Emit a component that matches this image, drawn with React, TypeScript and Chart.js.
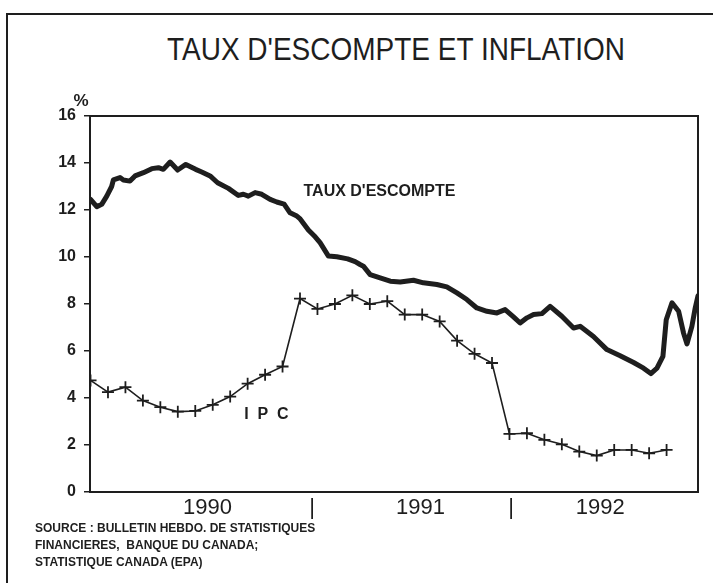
import React, { useEffect, useRef } from "react";
import { Chart, registerables } from "chart.js";

Chart.register(...registerables);

// ---- Data (x in months, 0 = January 1990) ----
const ipcMonths = [0, 1, 2, 3, 4, 5, 6, 7, 8, 9, 10, 11, 12, 13, 14, 15, 16, 17, 18, 19, 20, 21, 22, 23, 24, 25, 26, 27, 28, 29, 30, 31, 32, 33];
const ipcValues = [4.75, 4.25, 4.46, 3.89, 3.61, 3.42, 3.45, 3.71, 4.06, 4.61, 4.99, 5.34, 8.23, 7.79, 8.0, 8.37, 8.0, 8.12, 7.55, 7.55, 7.26, 6.44, 5.88, 5.49, 2.47, 2.5, 2.22, 2.03, 1.72, 1.55, 1.79, 1.79, 1.65, 1.79];

const tauxMonths = [0, 0.36, 0.64, 0.93, 1.21, 1.31, 1.69, 1.88, 2.26, 2.55, 3.03, 3.51, 3.89, 4.17, 4.56, 4.99, 5.46, 6.02, 6.37, 6.85, 7.28, 7.9, 8.47, 8.76, 9.04, 9.43, 9.81, 10.29, 10.67, 11.09, 11.43, 11.82, 12.01, 12.48, 12.87, 13.15, 13.63, 14.11, 14.73, 15.16, 15.44, 15.63, 16.02, 16.59, 17.17, 17.74, 18.5, 19.07, 19.84, 20.41, 20.99, 21.56, 22.13, 22.71, 23.28, 23.75, 24.23, 24.61, 25.0, 25.38, 25.86, 26.33, 27.0, 27.67, 28.05, 28.81, 29.58, 30.34, 31.11, 31.68, 32.1, 32.45, 32.79, 32.98, 33.31, 33.69, 33.97, 34.17, 34.45, 34.64, 34.8];
const tauxValues = [12.45, 12.14, 12.24, 12.59, 13.0, 13.28, 13.38, 13.28, 13.23, 13.45, 13.59, 13.76, 13.8, 13.73, 14.04, 13.7, 13.94, 13.73, 13.62, 13.45, 13.16, 12.92, 12.62, 12.67, 12.59, 12.74, 12.67, 12.45, 12.34, 12.25, 11.88, 11.74, 11.62, 11.15, 10.86, 10.61, 10.04, 10.01, 9.92, 9.8, 9.68, 9.61, 9.25, 9.11, 8.97, 8.94, 9.01, 8.9, 8.83, 8.73, 8.47, 8.19, 7.83, 7.69, 7.62, 7.76, 7.45, 7.19, 7.41, 7.55, 7.59, 7.9, 7.48, 6.98, 7.05, 6.62, 6.06, 5.8, 5.51, 5.27, 5.04, 5.27, 5.77, 7.33, 8.05, 7.69, 6.77, 6.3, 7.05, 7.83, 8.35];

const xTickMonths = [6.7, 12.7, 18.9, 24.1, 29.2];
const xTickLabels = ["1990", "|", "1991", "|", "1992"];
const xMin = -0.03;
const xMax = 34.8;
const yMin = 0;
const yMax = 16;
const yStep = 2;

const title = "TAUX D'ESCOMPTE ET INFLATION";
const tauxLabel = "TAUX D'ESCOMPTE";
const tauxLabelAt = [12.2, 12.8];
const ipcLabel = "I  P  C";
const ipcLabelAt = [8.8, 3.28];
const unitLabel = "%";
const sourceLines = [
  "SOURCE : BULLETIN HEBDO. DE STATISTIQUES",
  "FINANCIERES,  BANQUE DU CANADA;",
  "STATISTIQUE CANADA (EPA)",
];

const FONT = "'Liberation Sans', Arial, Helvetica, sans-serif";
const INK = "#1e1e1e";

const annotate = {
  id: "annotate",
  afterDatasetsDraw(chart: any) {
    const { ctx, chartArea: a, scales } = chart;
    const x = scales.x;
    const y = scales.y;
    ctx.save();
    ctx.strokeStyle = INK;
    ctx.lineWidth = 2;
    ctx.beginPath();
    ctx.moveTo(a.left, a.top);
    ctx.lineTo(a.right, a.top);
    ctx.lineTo(a.right, a.bottom);
    ctx.stroke();

    ctx.fillStyle = INK;
    ctx.font = `bold 16px ${FONT}`;
    ctx.textBaseline = "middle";
    ctx.textAlign = "left";
    ctx.fillText(tauxLabel, x.getPixelForValue(tauxLabelAt[0]), y.getPixelForValue(tauxLabelAt[1]));
    ctx.fillText(ipcLabel, x.getPixelForValue(ipcLabelAt[0]), y.getPixelForValue(ipcLabelAt[1]));

    ctx.font = `bold 17px ${FONT}`;
    ctx.textAlign = "center";
    ctx.fillText(unitLabel, a.left - 9, a.top - 15);
    ctx.restore();
  },
};

function ChartCanvas() {
  const ref = useRef<HTMLCanvasElement | null>(null);
  useEffect(() => {
    if (!ref.current) return;
    const chart = new Chart(ref.current, {
      type: "line",
      data: {
        datasets: [
          {
            label: tauxLabel,
            data: tauxMonths.map((m, i) => ({ x: m, y: tauxValues[i] })),
            borderColor: INK,
            borderWidth: 5,
            pointRadius: 0,
            tension: 0,
            borderJoinStyle: "round",
            borderCapStyle: "round",
            clip: 0,
          },
          {
            label: "IPC",
            data: ipcMonths.map((m, i) => ({ x: m, y: ipcValues[i] })),
            borderColor: INK,
            borderWidth: 1.6,
            pointStyle: "cross",
            pointRadius: 6,
            pointBorderWidth: 1.8,
            pointBorderColor: INK,
            pointBackgroundColor: INK,
            tension: 0,
          },
        ],
      },
      options: {
        animation: false,
        responsive: false,
        maintainAspectRatio: false,
        events: [],
        layout: { padding: { left: 30, top: 116, right: 15, bottom: 51 } },
        plugins: {
          legend: { display: false },
          tooltip: { enabled: false },
          title: { display: false },
        },
        scales: {
          x: {
            type: "linear",
            min: xMin,
            max: xMax,
            afterFit: (s: any) => {
              s.height = 40;
            },
            afterBuildTicks: (s: any) => {
              s.ticks = xTickMonths.map((v) => ({ value: v }));
            },
            ticks: {
              autoSkip: false,
              maxRotation: 0,
              minRotation: 0,
              padding: 3,
              color: INK,
              font: { family: FONT, size: 22 },
              callback: (_v: any, i: number) => xTickLabels[i],
            },
            grid: { display: false, drawTicks: false },
            border: { display: true, color: INK, width: 2 },
          },
          y: {
            min: yMin,
            max: yMax,
            afterFit: (s: any) => {
              s.width = 60;
            },
            ticks: {
              stepSize: yStep,
              padding: 8,
              color: INK,
              font: { family: FONT, size: 16, weight: "bold" },
            },
            grid: {
              drawOnChartArea: false,
              drawTicks: true,
              tickLength: 6,
              color: INK,
              lineWidth: 1.5,
            },
            border: { display: true, color: INK, width: 2 },
          },
        },
      },
      plugins: [annotate],
    } as any);
    return () => chart.destroy();
  }, []);
  return (
    <canvas
      ref={ref}
      width={713}
      height={583}
      style={{ position: "absolute", left: 0, top: 0, width: 713, height: 583 }}
    />
  );
}

export default function App() {
  return (
    <div
      style={{
        position: "fixed",
        left: 0,
        top: 0,
        width: 713,
        height: 583,
        overflow: "hidden",
        background: "#fff",
        fontFamily: FONT,
        color: INK,
      }}
    >
      <div
        style={{
          position: "absolute",
          left: 6,
          top: 13,
          width: 800,
          height: 700,
          borderLeft: `2px solid ${INK}`,
          borderTop: `2px solid ${INK}`,
        }}
      />
      <div
        style={{
          position: "absolute",
          left: 96,
          top: 33,
          width: 600,
          textAlign: "center",
          fontSize: 28,
          lineHeight: "34px",
          transform: "scaleY(1.15)",
        }}
      >
        {title}
      </div>
      <ChartCanvas />
      <div
        style={{
          position: "absolute",
          left: 35,
          top: 520,
          fontSize: 12,
          fontWeight: "bold",
          lineHeight: "17px",
          whiteSpace: "pre",
        }}
      >
        {sourceLines.map((l, i) => (
          <div key={i}>{l}</div>
        ))}
      </div>
    </div>
  );
}
